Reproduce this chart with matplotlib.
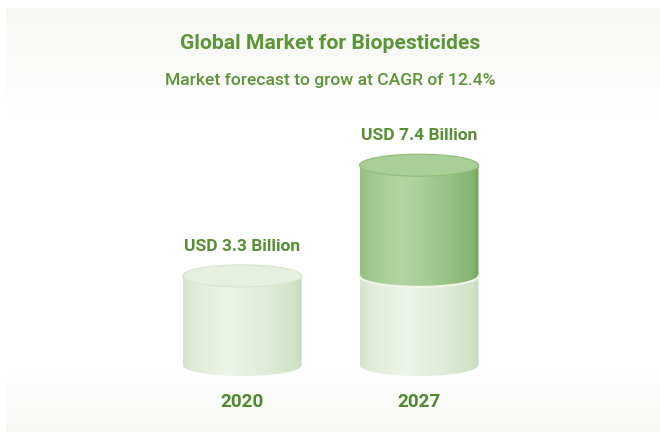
import numpy as np
import matplotlib
matplotlib.use("Agg")
import matplotlib.pyplot as plt
from matplotlib.patches import Ellipse, PathPatch
from matplotlib.path import Path
from matplotlib.colors import LinearSegmentedColormap

# ---- data ----
years = ["2020", "2027"]
market_usd_bn = [3.3, 7.4]
value_labels = ["USD 3.3 Billion", "USD 7.4 Billion"]
title = "Global Market for Biopesticides"
subtitle = "Market forecast to grow at CAGR of 12.4%"

# ---- style ----
TEXT_GREEN = "#5b9536"
LABEL_GREEN = "#558f31"
YEAR_GREEN = "#4f882d"
FONT = ["Roboto", "DejaVu Sans"]

light_cmap = LinearSegmentedColormap.from_list(
    "light", [(0.0, "#d4e3c9"), (0.08, "#dfebd6"), (0.38, "#eef5ea"),
              (0.75, "#deead5"), (0.95, "#d1e2c5"), (1.0, "#c7dbba")])
dark_cmap = LinearSegmentedColormap.from_list(
    "dark", [(0.0, "#93bf7e"), (0.08, "#a0c88d"), (0.35, "#b4d5a5"),
             (0.75, "#98c384"), (0.94, "#85b56e"), (1.0, "#72a75a")])

W, H = 660, 432
fig = plt.figure(figsize=(W / 100, H / 100), dpi=100)
fig.patch.set_facecolor("white")
ax = fig.add_axes([0, 0, 1, 1])

# axis scales: categories along x, billions along y
px_per_cat = 177.0
px_per_bn = 27.0
x_first_px = 242.0
y_zero_px = 365.0  # from top
ax.set_xlim(-x_first_px / px_per_cat, (W - x_first_px) / px_per_cat)
ax.set_ylim(-(H - y_zero_px) / px_per_bn, y_zero_px / px_per_bn)
ax.axis("off")

# soft off-white backdrop fading to white in the middle
rows = np.linspace(0, 1, 400)
shade = np.clip(np.maximum(1 - rows / 0.25, (rows - 0.86) / 0.14), 0, 1)
bg_top = np.array([0.965, 0.972, 0.955])
img = 1 - (1 - bg_top)[None, None, :] * shade[:, None, None]
img = np.repeat(img, 2, axis=1)
x0, x1 = ax.get_xlim()
yb, yt = ax.get_ylim()
ax.imshow(img, extent=[x0 + 6 / px_per_cat, x1, yb, yt - 8 / px_per_bn],
          origin="upper", aspect="auto", zorder=0, interpolation="bilinear")

hw = 59.5 / px_per_cat
ry = 11.0 / px_per_bn


def cylinder(cx, y0, y1, cmap, top_fc, top_ec, z, bottom_edge=None):
    t = np.linspace(np.pi, 2 * np.pi, 80)
    arc = np.column_stack([cx + hw * np.cos(t), y0 + ry * np.sin(t)])
    verts = np.vstack([[cx - hw, y1], arc, [cx + hw, y1], [cx - hw, y1]])
    codes = [Path.MOVETO] + [Path.LINETO] * (len(verts) - 2) + [Path.CLOSEPOLY]
    body = PathPatch(Path(verts, codes), facecolor="none", edgecolor="none",
                     zorder=z)
    ax.add_patch(body)
    grad = np.linspace(0, 1, 256)[None, :]
    im = ax.imshow(grad, extent=[cx - hw, cx + hw, y0 - ry, y1], cmap=cmap,
                   aspect="auto", zorder=z, interpolation="bilinear")
    im.set_clip_path(body)
    if bottom_edge is not None:
        ax.plot(arc[:, 0], arc[:, 1], color=bottom_edge, lw=1.6, zorder=z + 0.1,
                solid_capstyle="round")
    ax.add_patch(Ellipse((cx, y1), 2 * hw, 2 * ry, facecolor=top_fc,
                         edgecolor=top_ec, lw=0.9, zorder=z + 0.2))


base = market_usd_bn[0]
for i, v in enumerate(market_usd_bn):
    lo = min(v, base)
    cylinder(i, 0, lo, light_cmap, "#e6efe0", "#d9e6d0", 2 + i)
    if v > base:
        cylinder(i, base, v, dark_cmap, "#a9ce97", "#93bf7d", 2.5 + i,
                 bottom_edge="#eef5ea")
    ax.annotate(value_labels[i], (i, v + ry), xytext=(0, 10),
                textcoords="offset points", ha="center", va="baseline",
                fontsize=12.5, fontweight="bold", color=LABEL_GREEN,
                family=FONT, zorder=10)
    ax.annotate(years[i], (i, 0), xytext=(0, -30),
                textcoords="offset points", ha="center", va="baseline",
                fontsize=13.6, fontweight="bold", color=YEAR_GREEN,
                family=FONT, zorder=10)

fig.text(0.5, 1 - 49 / H, title, ha="center", va="baseline", fontsize=15.2,
         fontweight="bold", color=TEXT_GREEN, family=FONT)
fig.text(0.5, 1 - 85 / H, subtitle, ha="center", va="baseline", fontsize=12.6,
         fontweight="medium", color=TEXT_GREEN, family=FONT)

fig.savefig("out.png", dpi=100, facecolor=fig.get_facecolor())
